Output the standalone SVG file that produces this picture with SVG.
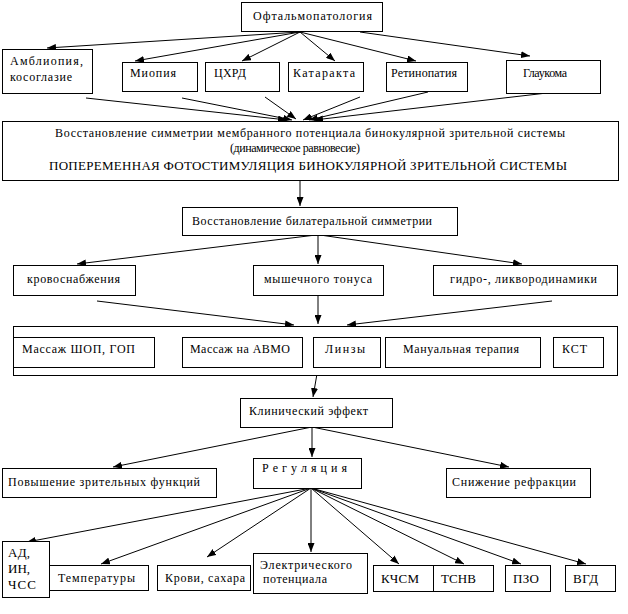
<svg xmlns="http://www.w3.org/2000/svg" width="628" height="614" viewBox="0 0 628 614">
<style>
rect{fill:#fff;stroke:#000;stroke-width:1}
text{font-family:'Liberation Serif','Times New Roman','DejaVu Serif',serif;font-size:12px;fill:#000}
.big{font-size:13px}
.c line{stroke:#000;stroke-width:1;marker-end:url(#ah)}
</style>
<defs>
<marker id="ah" markerUnits="userSpaceOnUse" markerWidth="9" markerHeight="7" refX="9" refY="3.5" orient="auto"><path d="M0,0 L9,3.5 L0,7 z" fill="#000"/></marker>
</defs>
<g class="c" id="connectors">
<line x1="300" y1="32" x2="47" y2="48"/>
<line x1="300" y1="32" x2="135" y2="61"/>
<line x1="300" y1="32" x2="242" y2="61"/>
<line x1="300" y1="32" x2="335" y2="61"/>
<line x1="300" y1="32" x2="416" y2="61"/>
<line x1="360" y1="32" x2="530" y2="56"/>
<line x1="86" y1="98" x2="287" y2="120"/>
<line x1="182" y1="98" x2="292" y2="120"/>
<line x1="265" y1="97" x2="296" y2="119"/>
<line x1="360" y1="97" x2="303" y2="120"/>
<line x1="428" y1="92" x2="309" y2="120"/>
<line x1="547" y1="93" x2="314" y2="120"/>
<line x1="300" y1="180" x2="300" y2="206"/>
<line x1="316" y1="235" x2="77" y2="264"/>
<line x1="318" y1="235" x2="318" y2="264"/>
<line x1="320" y1="235" x2="522" y2="264"/>
<line x1="97" y1="301" x2="294" y2="325"/>
<line x1="318" y1="295" x2="318" y2="324"/>
<line x1="552" y1="301" x2="347" y2="325"/>
<line x1="318" y1="368" x2="313" y2="397"/>
<line x1="312" y1="427" x2="312" y2="457"/>
<line x1="312" y1="427" x2="113" y2="467"/>
<line x1="312" y1="427" x2="509" y2="467"/>
<line x1="311" y1="488" x2="27" y2="542"/>
<line x1="311" y1="488" x2="101" y2="564"/>
<line x1="311" y1="488" x2="207" y2="557"/>
<line x1="311" y1="488" x2="311" y2="552"/>
<line x1="311" y1="488" x2="399" y2="564"/>
<line x1="311" y1="488" x2="464" y2="564"/>
<line x1="311" y1="488" x2="521" y2="564"/>
<line x1="311" y1="488" x2="586" y2="564"/>
</g>
<g font-family="Liberation Serif, Times New Roman, serif">
<g id="n-oftalm"><rect x="241.5" y="2.5" width="141" height="29"/><text x="253" y="20" textLength="119" lengthAdjust="spacing">Офтальмопатология</text></g>
<g id="n-ambl"><rect x="2.5" y="49.5" width="90" height="44"/><text x="10" y="65" textLength="73" lengthAdjust="spacing">Амблиопия,</text><text x="10" y="81" textLength="62" lengthAdjust="spacing">косоглазие</text></g>
<g id="n-miop"><rect x="122.5" y="62.5" width="75" height="29"/><text x="130" y="77" textLength="46" lengthAdjust="spacing">Миопия</text></g>
<g id="n-chrd"><rect x="205.5" y="62.5" width="74" height="29"/><text x="214" y="77" textLength="32" lengthAdjust="spacing">ЦХРД</text></g>
<g id="n-katar"><rect x="288.5" y="62.5" width="75" height="29"/><text x="293" y="77" textLength="62" lengthAdjust="spacing">Катаракта</text></g>
<g id="n-retin"><rect x="386.5" y="62.5" width="81" height="29"/><text x="391" y="77" textLength="66" lengthAdjust="spacing">Ретинопатия</text></g>
<g id="n-glauk"><rect x="506.5" y="60.5" width="94" height="33"/><text x="523" y="77" textLength="44" lengthAdjust="spacing">Глаукома</text></g>
<g id="n-vosst"><rect x="2.5" y="121.5" width="616" height="59"/>
<text x="55" y="137" textLength="510" lengthAdjust="spacing">Восстановление симметрии мембранного потенциала бинокулярной зрительной системы</text>
<text x="230" y="152" textLength="130" lengthAdjust="spacing">(динамическое равновесие)</text>
<text class="big" x="49" y="170" textLength="518" lengthAdjust="spacing">ПОПЕРЕМЕННАЯ ФОТОСТИМУЛЯЦИЯ БИНОКУЛЯРНОЙ ЗРИТЕЛЬНОЙ СИСТЕМЫ</text></g>
<g id="n-bilat"><rect x="182.5" y="207.5" width="275" height="28"/><text x="192" y="225" textLength="240" lengthAdjust="spacing">Восстановление билатеральной симметрии</text></g>
<g id="n-krov"><rect x="13.5" y="265.5" width="122" height="30"/><text x="27" y="283" textLength="93" lengthAdjust="spacing">кровоснабжения</text></g>
<g id="n-mysh"><rect x="253.5" y="265.5" width="130" height="30"/><text x="264" y="283" textLength="108" lengthAdjust="spacing">мышечного тонуса</text></g>
<g id="n-gidro"><rect x="433.5" y="265.5" width="184" height="30"/><text x="450" y="283" textLength="147" lengthAdjust="spacing">гидро-, ликвородинамики</text></g>
<g id="n-methods"><rect x="13.5" y="326.5" width="604" height="49"/></g>
<g id="n-massazh1"><rect x="13.5" y="337.5" width="141" height="30"/><text x="22" y="353" textLength="113" lengthAdjust="spacing">Массаж ШОП, ГОП</text></g>
<g id="n-massazh2"><rect x="182.5" y="337.5" width="120" height="30"/><text x="190" y="353" textLength="100" lengthAdjust="spacing">Массаж на АВМО</text></g>
<g id="n-linzy"><rect x="313.5" y="337.5" width="67" height="30"/><text x="325" y="353" textLength="40" lengthAdjust="spacing">Линзы</text></g>
<g id="n-manual"><rect x="385.5" y="337.5" width="155" height="30"/><text x="403" y="353" textLength="116" lengthAdjust="spacing">Мануальная терапия</text></g>
<g id="n-kst"><rect x="553.5" y="337.5" width="50" height="30"/><text x="562" y="353" textLength="25" lengthAdjust="spacing">КСТ</text></g>
<g id="n-klin"><rect x="240.5" y="398.5" width="152" height="29"/><text x="249" y="415" textLength="119" lengthAdjust="spacing">Клинический эффект</text></g>
<g id="n-povysh"><rect x="2.5" y="468.5" width="214" height="29"/><text x="8" y="486" textLength="192" lengthAdjust="spacing">Повышение зрительных функций</text></g>
<g id="n-regul"><rect x="253.5" y="458.5" width="108" height="30"/><text x="262" y="472" textLength="85" lengthAdjust="spacing">Р е г у л я ц и я</text></g>
<g id="n-snizh"><rect x="446.5" y="468.5" width="144" height="29"/><text x="452" y="486" textLength="124" lengthAdjust="spacing">Снижение рефракции</text></g>
<g id="n-ad"><rect x="2.5" y="541.5" width="47" height="56"/><text class="big" x="8" y="557" textLength="22" lengthAdjust="spacing">АД,</text><text class="big" x="8" y="573" textLength="22" lengthAdjust="spacing">ИН,</text><text class="big" x="8" y="589" textLength="28" lengthAdjust="spacing">ЧСС</text></g>
<g id="n-temp"><rect x="49.5" y="565.5" width="99" height="25"/><text x="58" y="582" textLength="77" lengthAdjust="spacing">Температуры</text></g>
<g id="n-krovi"><rect x="157.5" y="565.5" width="93" height="25"/><text x="165" y="582" textLength="80" lengthAdjust="spacing">Крови, сахара</text></g>
<g id="n-elektr"><rect x="253.5" y="553.5" width="114" height="40"/><text x="260" y="569" textLength="92" lengthAdjust="spacing">Электрического</text><text x="263" y="583" textLength="64" lengthAdjust="spacing">потенциала</text></g>
<g id="n-kchsm"><rect x="373.5" y="565.5" width="60" height="26"/><text class="big" x="381" y="583" textLength="38" lengthAdjust="spacing">КЧСМ</text></g>
<g id="n-tsnv"><rect x="433.5" y="565.5" width="60" height="26"/><text class="big" x="441" y="583" textLength="35" lengthAdjust="spacing">ТСНВ</text></g>
<g id="n-pzo"><rect x="505.5" y="565.5" width="45" height="26"/><text class="big" x="513" y="583" textLength="26" lengthAdjust="spacing">ПЗО</text></g>
<g id="n-vgd"><rect x="565.5" y="565.5" width="50" height="26"/><text class="big" x="573" y="583" textLength="25" lengthAdjust="spacing">ВГД</text></g>
</g>
</svg>
